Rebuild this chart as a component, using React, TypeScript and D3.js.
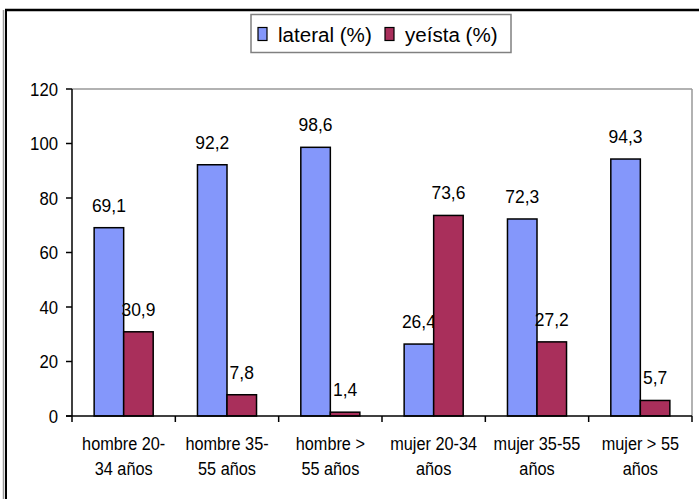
import * as d3 from 'd3';

// chart values
const categories = [
  ['hombre 20-', '34 años'],
  ['hombre 35-', '55 años'],
  ['hombre >', '55 años'],
  ['mujer 20-34', 'años'],
  ['mujer 35-55', 'años'],
  ['mujer > 55', 'años'],
];
const seriesNames = ['lateral (%)', 'yeísta (%)'];
const lateralValues = [69.1, 92.2, 98.6, 26.4, 72.3, 94.3];
const yeistaValues = [30.9, 7.8, 1.4, 73.6, 27.2, 5.7];
const yTicks = [0, 20, 40, 60, 80, 100, 120];

const COLORS = ['#8497fb', '#a92f5b'];
const FONT = '"Liberation Sans", Arial, sans-serif';

const WIDTH = 699;
const HEIGHT = 499;
const plot = { left: 72, right: 692, top: 89, bottom: 416 };

// the original text looks a bit squeezed sideways
const Label = ({ x, y, size, sx, anchor = 'middle', children }: any) => (
  <text
    transform={`translate(${x},${y}) scale(${sx},1)`}
    textAnchor={anchor}
    fontSize={size}
    fill="#000"
  >
    {children}
  </text>
);

export default function App() {
  const keys = categories.map((c) => c.join(' '));
  const series = [lateralValues, yeistaValues];

  const x0 = d3.scaleBand<string>().domain(keys).range([plot.left, plot.right]);
  const x1 = d3
    .scaleBand<string>()
    .domain(seriesNames)
    .range([0, x0.bandwidth()])
    .paddingOuter(0.75);
  const y = d3.scaleLinear().domain([0, 120]).range([plot.bottom, plot.top]);

  const fmt = (v: number) => v.toFixed(1).replace('.', ',');

  // legend layout
  const legend = { x: 251, y: 14.5, w: 260, h: 38 };

  return (
    <svg
      width={WIDTH}
      height={HEIGHT}
      style={{ position: 'absolute', left: 0, top: 0, background: '#fff' }}
      fontFamily={FONT}
    >
      {/* outer frame (cropped) */}
      <line x1={5} x2={WIDTH} y1={10} y2={10} stroke="#000" strokeWidth={2.5} />
      <line x1={3.5} x2={3.5} y1={10} y2={HEIGHT} stroke="#999" strokeWidth={1.5} />
      <line x1={6} x2={6} y1={9} y2={HEIGHT} stroke="#000" strokeWidth={2} />

      {/* plot area border */}
      <line x1={plot.left} x2={plot.right} y1={plot.top} y2={plot.top} stroke="#999" strokeWidth={1.5} />
      <line x1={plot.right} x2={plot.right} y1={plot.top} y2={plot.bottom} stroke="#999" strokeWidth={1.5} />

      {/* bars */}
      {keys.map((k, i) => (
        <g key={k}>
          {seriesNames.map((s, j) => {
            const v = series[j][i];
            const bx = (x0(k) ?? 0) + (x1(s) ?? 0);
            return (
              <g key={s}>
                <rect
                  x={bx}
                  y={y(v)}
                  width={x1.bandwidth()}
                  height={y(0) - y(v)}
                  fill={COLORS[j]}
                  stroke="#000"
                  strokeWidth={1.5}
                />
                <Label x={bx + x1.bandwidth() / 2} y={y(v) - 16} size={19} sx={0.92}>
                  {fmt(v)}
                </Label>
              </g>
            );
          })}
        </g>
      ))}

      {/* y axis */}
      <line x1={plot.left} x2={plot.left} y1={plot.top} y2={plot.bottom} stroke="#000" strokeWidth={1.5} />
      {yTicks.map((t) => (
        <g key={t}>
          <line x1={plot.left - 6} x2={plot.left} y1={y(t)} y2={y(t)} stroke="#000" strokeWidth={1.5} />
          <Label x={plot.left - 14} y={y(t) + 6.5} size={18} sx={0.93} anchor="end">
            {t}
          </Label>
        </g>
      ))}

      {/* x axis */}
      <line x1={plot.left - 6} x2={plot.right} y1={plot.bottom} y2={plot.bottom} stroke="#000" strokeWidth={1.5} />
      {keys.map((k) => (
        <line
          key={'t' + k}
          x1={x0(k)}
          x2={x0(k)}
          y1={plot.bottom}
          y2={plot.bottom + 6}
          stroke="#000"
          strokeWidth={1.5}
        />
      ))}
      <line x1={plot.right} x2={plot.right} y1={plot.bottom} y2={plot.bottom + 6} stroke="#000" strokeWidth={1.5} />
      {categories.map((lines, i) =>
        lines.map((l, li) => (
          <Label
            key={'c' + i + li}
            x={(x0(keys[i]) ?? 0) + x0.bandwidth() / 2}
            y={450 + li * 25}
            size={18.5}
            sx={0.88}
          >
            {l}
          </Label>
        ))
      )}

      {/* legend */}
      <rect x={legend.x} y={legend.y} width={legend.w} height={legend.h} fill="#fff" stroke="#808080" strokeWidth={1.5} />
      {seriesNames.map((s, j) => {
        const sx = j === 0 ? 258 : 385;
        return (
          <g key={'l' + s}>
            <rect x={sx} y={27.5} width={9} height={13} fill={COLORS[j]} stroke="#000" strokeWidth={1.2} />
            <Label x={sx + 20} y={41.5} size={21} sx={0.98} anchor="start">
              {s}
            </Label>
          </g>
        );
      })}
    </svg>
  );
}
